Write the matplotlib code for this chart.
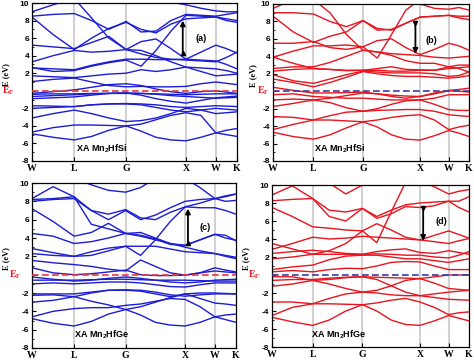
import numpy as np
import matplotlib
matplotlib.use("Agg")
import matplotlib.pyplot as plt
from matplotlib.transforms import blended_transform_factory

plt.rcParams['mathtext.fontset'] = 'custom'
plt.rcParams['mathtext.rm'] = 'Liberation Serif'
plt.rcParams['mathtext.bf'] = 'Liberation Serif:bold'
plt.rcParams['mathtext.sf'] = 'Liberation Sans:bold'

# high-symmetry path W-L-G-X-W-K (cumulative lengths, 2pi/a)
kpath_labels = ["W", "L", "G", "X", "W", "K"]
kpath_pos = [0.0, 0.707, 1.573, 2.573, 3.073, 3.427]
# sampling points along the path (index: W, WL, L, LG1, LG2, G, GX1, GX2, GX3, X, XW, W, WK, K)
k_samples = [0.0, 0.354, 0.707, 0.996, 1.284, 1.573, 1.823, 2.073, 2.323, 2.573, 2.823, 3.073, 3.250, 3.427]

bands_a = [  # XA Mn2HfSi (blue)
    [-4.9, -5.3, -5.6, -5.2, -4.5, -4.0, -4.6, -5.3, -5.6, -5.7, -5.3, -4.8, -5.0, -5.2],
    [-4.7, -4.2, -3.9, -3.9, -3.95, -4.0, -3.8, -3.3, -2.8, -2.5, -2.8, -4.8, -4.5, -4.3],
    [-3.1, -2.6, -2.2, -2.6, -3.1, -3.5, -3.4, -3.1, -2.6, -2.0, -2.2, -2.6, -2.5, -2.4],
    [-2.0, -1.9, -1.8, -1.6, -1.5, -1.5, -1.6, -1.9, -2.2, -2.4, -2.2, -2.0, -2.1, -2.2],
    [-1.7, -1.75, -1.8, -1.6, -1.5, -1.45, -1.5, -1.6, -1.8, -1.9, -1.8, -1.7, -1.75, -1.8],
    [-0.9, -0.8, -0.7, -0.5, -0.3, -0.25, -0.5, -0.9, -1.2, -1.4, -1.1, -0.8, -0.7, -0.6],
    [-0.65, -0.55, -0.45, -0.35, -0.3, -0.25, -0.3, -0.4, -0.55, -0.65, -0.75, -0.85, -0.8, -0.75],
    [-0.4, -0.35, -0.35, -0.3, -0.3, -0.3, -0.3, -0.35, -0.4, -0.45, -0.4, -0.35, -0.35, -0.35],
    [-0.3, -0.1, 0.1, 0.4, 0.7, 0.8, 0.6, 0.2, -0.1, -0.3, -0.1, 0.0, -0.15, -0.3],
    [1.05, 1.3, 1.45, 1.0, 0.6, 0.45, 0.5, 0.45, 0.45, 0.5, 0.8, 1.0, 0.85, 0.7],
    [1.7, 1.6, 1.5, 1.7, 1.9, 2.0, 2.4, 2.2, 2.4, 2.7, 2.2, 1.7, 1.8, 1.9],
    [2.65, 2.2, 2.3, 2.8, 3.2, 3.5, 2.8, 4.6, 6.8, 8.6, 8.5, 8.4, 8.2, 8.0],
    [2.6, 2.5, 2.4, 2.9, 3.3, 3.6, 3.6, 3.55, 3.55, 3.6, 3.5, 3.4, 3.0, 2.5],
    [3.3, 4.0, 4.6, 4.4, 4.5, 4.7, 5.6, 5.9, 4.8, 3.6, 4.4, 5.2, 4.8, 4.3],
    [5.2, 5.0, 4.8, 5.5, 6.2, 4.7, 4.6, 4.0, 3.3, 2.7, 2.6, 2.5, 2.3, 2.0],
    [8.4, 6.4, 4.7, 6.0, 7.1, 7.8, 7.0, 6.6, 7.6, 8.2, 8.3, 8.4, 8.0, 7.8],
    [8.5, 8.7, 8.8, 8.0, 7.0, 7.9, 6.7, 6.8, 8.0, 8.7, 8.6, 8.5, 8.7, 8.9],
    [9.0, 9.8, 10.5, 8.3, 6.0, 4.7, 4.2, 3.8, 3.6, 3.5, 3.4, 3.3, 3.8, 4.4],
    [10.5, 10.5, 10.5, 10.5, 10.5, 10.5, 10.5, 10.5, 10.1, 9.8, 9.4, 9.1, 9.0, 9.0],
]

bands_b = [  # XA Mn2HfSi (red)
    [-4.7, -5.2, -5.5, -5.0, -4.2, -3.5, -4.1, -5.0, -5.5, -5.6, -5.1, -4.5, -4.8, -5.2],
    [-4.4, -3.8, -3.3, -3.3, -3.4, -3.5, -3.3, -3.0, -2.8, -2.7, -3.3, -4.4, -4.1, -3.9],
    [-2.9, -3.0, -3.3, -2.8, -2.4, -2.3, -2.2, -2.15, -2.1, -2.1, -2.3, -2.7, -2.8, -2.9],
    [-1.75, -1.4, -1.0, -1.3, -1.9, -2.3, -2.0, -1.5, -1.1, -1.0, -1.5, -2.1, -2.2, -2.2],
    [-1.0, -0.9, -1.0, -0.8, -0.5, -0.2, -0.3, -0.45, -0.55, -0.6, -0.3, 0.05, 0.0, -0.1],
    [-0.4, -0.3, -0.6, -0.7, -0.8, -0.8, -0.9, -1.0, -1.0, -1.0, -0.8, -0.4, -0.4, -0.4],
    [0.45, 0.1, -0.2, -0.2, -0.15, -0.1, -0.3, -0.6, -0.8, -0.6, -0.2, 0.1, 0.2, 0.35],
    [1.4, 1.0, 0.5, 1.0, 1.6, 2.25, 2.0, 1.8, 1.7, 1.7, 1.6, 1.5, 1.6, 1.8],
    [1.9, 1.2, 0.9, 1.4, 1.9, 2.3, 2.2, 2.1, 2.1, 2.1, 2.0, 1.7, 1.8, 2.2],
    [2.3, 2.5, 2.6, 2.5, 2.35, 2.4, 2.6, 2.8, 2.5, 2.45, 2.4, 2.8, 2.6, 2.2],
    [2.6, 2.8, 2.8, 3.3, 4.0, 4.7, 4.5, 4.1, 3.5, 3.2, 3.2, 2.8, 3.0, 3.0],
    [3.9, 3.2, 2.6, 2.5, 2.4, 2.4, 2.4, 2.3, 2.3, 2.4, 2.4, 2.6, 2.7, 2.8],
    [5.5, 5.5, 5.7, 5.0, 4.8, 5.1, 5.8, 6.0, 5.0, 4.2, 4.8, 5.5, 5.2, 4.7],
    [3.9, 4.6, 5.2, 5.2, 5.3, 5.1, 3.8, 6.5, 9.3, 10.5, 10.5, 10.5, 10.5, 10.5],
    [8.6, 6.8, 5.6, 6.3, 6.8, 8.1, 7.0, 7.1, 7.8, 8.5, 8.6, 8.7, 8.4, 8.2],
    [9.0, 9.0, 8.85, 8.0, 7.4, 8.1, 7.2, 7.0, 7.8, 8.5, 8.6, 8.7, 8.6, 8.6],
    [9.5, 10.5, 10.5, 9.0, 6.5, 4.7, 4.5, 4.3, 4.2, 4.1, 3.9, 3.8, 3.9, 4.0],
    [10.5, 10.5, 10.5, 10.5, 10.5, 10.5, 10.5, 10.5, 10.5, 10.0, 9.5, 9.4, 9.6, 9.3],
]

bands_c = [  # XA Mn2HfGe (blue)
    [-4.8, -5.3, -5.6, -5.1, -4.3, -3.8, -4.4, -5.2, -5.5, -5.6, -5.2, -4.6, -4.9, -5.2],
    [-4.6, -4.0, -3.7, -3.6, -3.6, -3.35, -3.2, -2.9, -2.6, -2.7, -3.5, -4.6, -4.4, -4.3],
    [-3.0, -2.8, -2.4, -2.9, -3.3, -3.8, -3.5, -3.0, -2.5, -2.1, -2.6, -3.1, -3.2, -3.35],
    [-2.25, -2.2, -2.4, -2.0, -1.7, -1.7, -1.8, -2.1, -2.4, -2.1, -2.0, -2.0, -2.05, -2.1],
    [-2.1, -2.1, -2.1, -1.9, -1.7, -1.65, -1.7, -1.9, -2.2, -2.35, -2.2, -2.1, -2.1, -2.1],
    [-1.0, -0.9, -1.0, -0.9, -0.8, -0.8, -0.9, -1.1, -1.3, -1.35, -1.1, -0.9, -0.9, -0.9],
    [-0.6, -0.6, -0.6, -0.55, -0.5, -0.5, -0.55, -0.6, -0.6, -0.6, -0.65, -0.7, -0.7, -0.7],
    [-0.25, -0.5, -0.7, -0.6, -0.4, -0.25, -0.4, -0.6, -0.8, -0.9, -0.8, -0.6, -0.55, -0.5],
    [0.75, 0.2, 0.0, 0.1, 0.3, 0.5, 0.0, -0.1, -0.1, -0.05, 0.2, 0.75, 0.5, 0.3],
    [1.55, 1.3, 1.1, 0.9, 0.6, 0.4, 1.6, 0.9, 0.2, -0.05, 0.2, 0.4, 0.3, 0.2],
    [2.3, 2.1, 2.0, 2.1, 2.6, 3.1, 2.1, 3.8, 5.8, 7.4, 7.8, 8.3, 8.5, 8.8],
    [2.85, 2.4, 2.0, 2.5, 2.9, 3.1, 3.1, 3.1, 2.8, 2.5, 2.4, 2.3, 2.1, 1.9],
    [4.5, 4.2, 3.4, 3.6, 4.0, 4.5, 4.2, 3.8, 3.4, 3.2, 3.8, 4.4, 4.0, 3.75],
    [7.2, 5.8, 4.2, 4.6, 5.6, 4.5, 4.6, 4.0, 3.4, 3.0, 2.6, 2.3, 2.0, 1.75],
    [8.0, 8.2, 8.3, 7.0, 6.6, 7.1, 6.2, 6.0, 6.8, 7.4, 7.3, 7.3, 7.0, 6.6],
    [8.3, 9.6, 8.5, 7.0, 6.0, 7.0, 6.0, 6.5, 7.3, 8.0, 8.2, 8.3, 8.0, 8.1],
    [10.5, 10.5, 10.5, 9.8, 9.2, 9.0, 9.5, 10.5, 10.5, 10.5, 9.5, 8.3, 8.6, 8.8],
    [8.2, 8.3, 8.5, 5.5, 5.0, 4.5, 4.3, 3.9, 3.3, 3.2, 3.8, 4.4, 4.3, 3.7],
]

bands_d = [  # XA Mn2HfGe (red)
    [-4.7, -5.2, -5.6, -5.0, -4.0, -3.3, -4.0, -5.0, -5.5, -5.6, -5.1, -4.5, -4.8, -5.1],
    [-4.5, -3.6, -3.2, -3.2, -3.25, -3.3, -3.1, -2.8, -2.6, -3.0, -3.6, -4.4, -4.2, -4.1],
    [-3.0, -3.0, -3.2, -2.6, -2.1, -1.9, -2.0, -2.2, -2.3, -2.3, -2.5, -2.7, -2.75, -2.8],
    [-1.25, -1.0, -0.6, -1.0, -1.5, -1.9, -1.7, -1.2, -0.6, -0.4, -0.9, -1.5, -1.6, -1.7],
    [-0.6, -0.5, -0.5, -0.35, -0.25, -0.2, -0.5, -1.2, -1.9, -2.3, -2.1, -1.9, -1.8, -1.7],
    [-0.2, -0.2, -0.6, -0.5, -0.3, -0.2, -0.25, -0.3, -0.35, -0.4, -0.2, 0.0, 0.0, 0.0],
    [0.35, 0.5, 0.35, 0.6, 0.75, 0.7, 1.0, 1.4, 1.5, 1.45, 1.0, 0.6, 0.6, 0.6],
    [0.6, 0.9, 1.1, 1.7, 2.1, 2.2, 2.2, 2.0, 1.8, 1.8, 1.6, 1.4, 1.6, 1.8],
    [1.8, 2.0, 2.3, 2.3, 2.3, 2.3, 2.35, 2.3, 2.2, 2.2, 2.0, 1.9, 2.2, 2.6],
    [2.4, 2.6, 2.75, 2.6, 2.4, 2.3, 2.6, 2.8, 2.9, 2.5, 2.4, 2.7, 2.5, 2.3],
    [2.85, 3.5, 4.2, 4.0, 4.1, 4.3, 4.2, 4.1, 4.0, 3.9, 3.7, 3.5, 3.8, 4.05],
    [3.5, 2.9, 2.3, 2.7, 3.5, 4.9, 5.7, 5.0, 4.2, 3.9, 4.4, 4.9, 4.5, 4.1],
    [7.5, 6.5, 5.35, 5.2, 5.0, 4.9, 3.6, 7.0, 10.3, 10.5, 10.5, 10.5, 10.5, 10.5],
    [8.25, 8.4, 8.5, 7.2, 7.0, 7.4, 6.5, 7.2, 7.8, 8.0, 8.1, 8.2, 8.2, 8.7],
    [8.9, 9.9, 8.5, 6.5, 6.0, 7.4, 6.3, 6.8, 7.6, 7.5, 7.7, 8.2, 7.5, 7.0],
    [10.5, 10.5, 10.5, 10.2, 9.0, 10.0, 10.5, 10.5, 10.5, 10.5, 9.8, 9.0, 9.3, 9.5],
]

panel_labels = ["(a)", "(b)", "(c)", "(d)"]
compound_labels = ["XA Mn$_\\mathsf{2}$HfSi", "XA Mn$_\\mathsf{2}$HfSi",
                   "XA Mn$_\\mathsf{2}$HfGe", "XA Mn$_\\mathsf{2}$HfGe"]
# arrows: (k position, tail energy, head energy)
arrow_k = [2.52, 2.49, 2.62, 2.63]
arrow_from = [4.3, 7.8, 3.5, 7.5]
arrow_to = [8.0, 4.3, 7.2, 3.8]
label_xy = [(2.73, 6.0), (2.66, 5.8), (2.82, 5.1), (2.85, 5.9)]

yticks = [-8, -6, -4, -2, 0, 2, 4, 6, 8, 10]

blue = "#1c1cd6"
red = "#e8141e"

fig = plt.figure(figsize=(4.74, 3.63), dpi=100)
rects = [
    (32, 3, 237, 161),
    (273, 4, 469, 161),
    (32, 183, 236, 348),
    (272, 185, 469, 347),
]
W, H = 474, 363
band_sets = [bands_a, bands_b, bands_c, bands_d]
line_colors = [blue, red, blue, red]
ef_colors = ["#e83a3a", "#3b3ba8", "#e83a3a", "#3b3ba8"]
ef_x = [-0.085, -0.02, -0.055, -0.06]
elabel_x = [-0.125, -0.10, -0.125, -0.13]

for i, (l, t, r, b) in enumerate(rects):
    ax = fig.add_axes([l / W, 1 - b / H, (r - l) / W, (b - t) / H])
    for kp in kpath_pos[1:-1]:
        ax.axvline(kp, color="#c8c8c8", lw=1.2, zorder=0)
    for band in band_sets[i]:
        ax.plot(k_samples, band, color=line_colors[i], lw=1.0, zorder=2,
                solid_joinstyle="round")
    ax.axhline(0, color=ef_colors[i], lw=1.2, ls=(0, (4, 2)), zorder=3)
    ax.set_xlim(kpath_pos[0], kpath_pos[-1])
    ax.set_ylim(-8, 10)
    ax.set_xticks(kpath_pos)
    ax.set_xticklabels(kpath_labels, fontfamily="Liberation Serif",
                       fontweight="bold", fontsize=7)
    ax.set_yticks(yticks)
    ax.set_yticklabels([("" if v == 0 else str(v)) for v in yticks],
                       fontfamily="Liberation Sans", fontweight="bold", fontsize=6)
    ax.set_yticks(np.arange(-8, 11, 1), minor=True)
    ax.tick_params(axis="both", which="major", direction="in", length=3, width=0.8, pad=2)
    ax.tick_params(axis="y", which="minor", direction="in", length=1.5, width=0.6)
    for s in ax.spines.values():
        s.set_linewidth(0.9)
    tr = blended_transform_factory(ax.transAxes, ax.transData)
    ax.text(ef_x[i], 0, r"$\mathbf{E_F}$", color=red, fontsize=7, transform=tr,
            ha="right", va="center")
    ax.text(elabel_x[i], 0.5, "E (eV)", rotation=90, transform=tr,
            fontfamily="Liberation Serif", fontweight="bold", fontsize=6,
            ha="center", va="bottom")
    ax.annotate("", xy=(arrow_k[i], arrow_to[i]), xytext=(arrow_k[i], arrow_from[i]),
                arrowprops=dict(arrowstyle="-|>", color="black", lw=1.3,
                                mutation_scale=7, shrinkA=0, shrinkB=0), zorder=5)
    tail_marker = "^" if arrow_to[i] > arrow_from[i] else "v"
    ax.plot([arrow_k[i]], [arrow_from[i]], marker=tail_marker, color="black",
            markersize=3, zorder=5)
    ax.text(label_xy[i][0], label_xy[i][1], panel_labels[i], fontsize=6.5,
            fontfamily="Liberation Sans", fontweight="bold", ha="left", va="center")
    ax.text(0.34, 0.04, compound_labels[i], transform=ax.transAxes, fontsize=6.5,
            fontfamily="Liberation Sans", fontweight="bold", ha="center", va="bottom")

fig.savefig("out.png", dpi=100)
